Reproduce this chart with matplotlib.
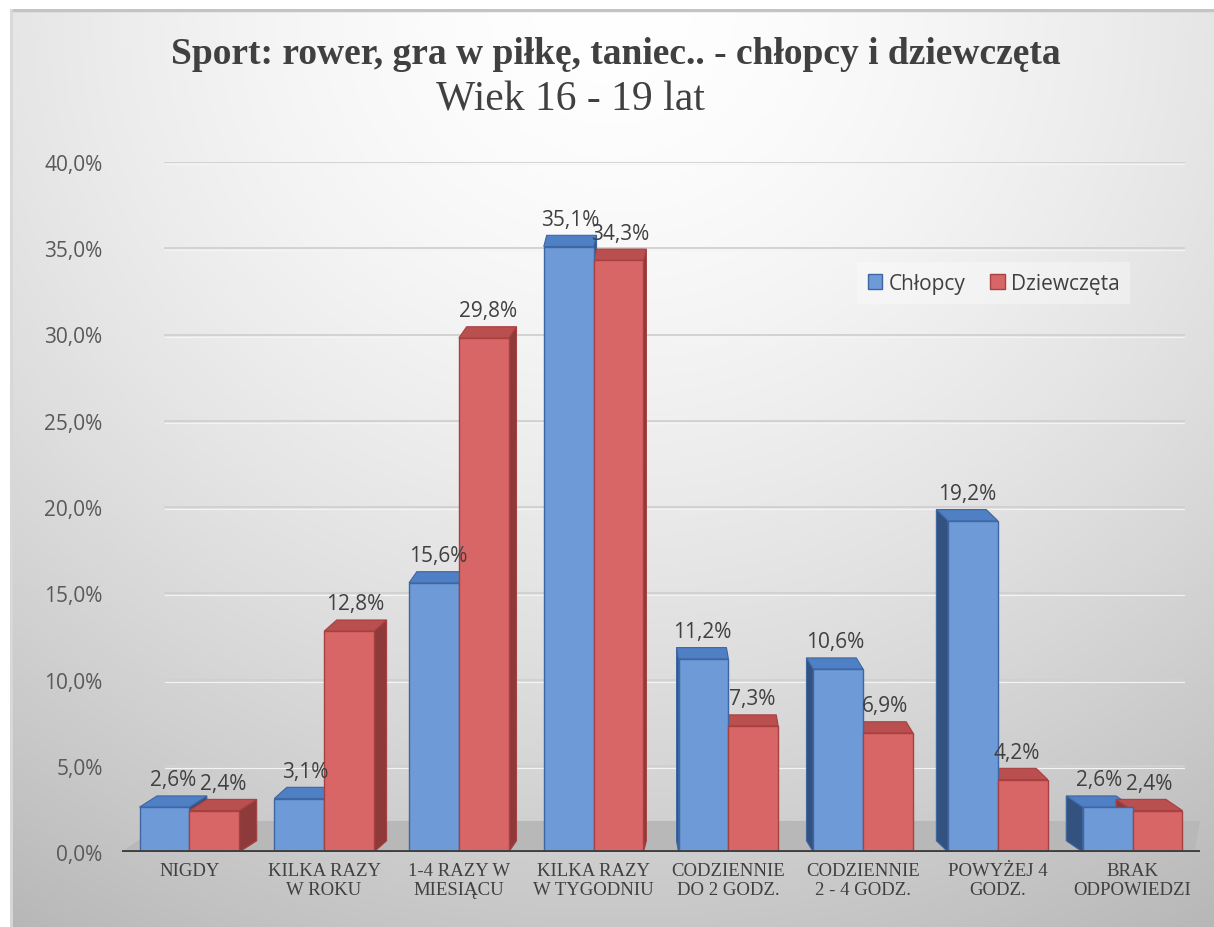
import matplotlib
matplotlib.use("Agg")
import matplotlib.pyplot as plt
import numpy as np
from matplotlib.patches import Polygon, Patch
from matplotlib.ticker import FuncFormatter

# data (percent)
categories = ["NIGDY", "KILKA RAZY\nW ROKU", "1-4 RAZY W\nMIESIĄCU", "KILKA RAZY\nW TYGODNIU",
              "CODZIENNIE\nDO 2 GODZ.", "CODZIENNIE\n2 - 4 GODZ.", "POWYŻEJ 4\nGODZ.", "BRAK\nODPOWIEDZI"]
chlopcy = [2.6, 3.1, 15.6, 35.1, 11.2, 10.6, 19.2, 2.6]
dziewczeta = [2.4, 12.8, 29.8, 34.3, 7.3, 6.9, 4.2, 2.4]
series_names = ["Chłopcy", "Dziewczęta"]

# colours: front, top, side, edge
blue = ("#6e9ad8", "#4f7fc4", "#34527f", "#3d66a3")
red = ("#d96666", "#b94f4f", "#8e3a3a", "#a84040")

W, H = 1214, 928
fig = plt.figure(figsize=(W / 100, H / 100), dpi=100)
fig.patch.set_facecolor("white")

# gradient background of the chart area
bg = fig.add_axes([10 / W, 0, 1 - 10 / W, 1 - 10 / H])
yy, xx = np.mgrid[0:1:300j, 0:1:400j]
r = np.sqrt(((xx - 0.5) * 1.1) ** 2 + ((yy - 0.0) * 0.9) ** 2)
shade = 1.0 - 0.28 * np.clip(r / 1.05, 0, 1) ** 1.6
bg.imshow(np.dstack([shade] * 3), extent=[0, 1, 0, 1], aspect="auto", origin="upper")
bg.set_xlim(0, 1)
bg.set_ylim(0, 1)
bg.axis("off")
bg.plot([0, 1], [0.999, 0.999], color="#c4c4c4", lw=2.5)
bg.plot([0.001, 0.001], [0, 1], color="#d8d8d8", lw=2)

fig.text(0.507, 1 - 55 / H, "Sport: rower, gra w piłkę, taniec.. - chłopcy i dziewczęta",
         ha="center", va="center", family="Liberation Serif", weight="bold",
         fontsize=27, color="#404040")
fig.text(0.470, 1 - 100 / H, "Wiek 16 - 19 lat", ha="center", va="center",
         family="Liberation Serif", fontsize=30, color="#404040")

ax = fig.add_axes([122 / W, 1 - 853 / H, (1200 - 122) / W, (853 - 163) / H])
ax.set_facecolor("none")
ax.set_xlim(-0.5, len(categories) - 0.5)
ax.set_ylim(0, 40)

# floor and gridlines
ax.add_patch(Polygon([(0, 0), (0.995, 0), (1.0, 0.045), (0.04, 0.045)], closed=True,
                     transform=ax.transAxes, facecolor="#b8b8b8", edgecolor="none", zorder=0))
for v in np.arange(5, 41, 5):
    ax.axhline(v, xmin=0.04, xmax=0.985, color="#d0d0d0", lw=1.3, zorder=0.5)
    ax.axhline(v - 0.12, xmin=0.04, xmax=0.985, color="#f4f4f4", lw=0.8, zorder=0.5)

x = np.arange(len(categories))
bw = 0.37
dy = 0.65
centre = 3.6
shift = 0.036


def fmt(v):
    return f"{v:.1f}%".replace(".", ",")


faces = []
fronts = []
for vals, col, off in ((chlopcy, blue, -bw / 2), (dziewczeta, red, bw / 2)):
    for i, h in enumerate(vals):
        x0 = x[i] + off - bw / 2
        x1 = x0 + bw
        dx = (centre - x[i]) * shift
        top = [(x0, h), (x1, h), (x1 + dx, h + dy), (x0 + dx, h + dy)]
        sx = x1 if dx > 0 else x0
        side = [(sx, 0), (sx, h), (sx + dx, h + dy), (sx + dx, dy)]
        faces.append(Polygon(side, closed=True, facecolor=col[2], edgecolor=col[3], lw=0.8, zorder=2))
        faces.append(Polygon(top, closed=True, facecolor=col[1], edgecolor=col[3], lw=0.8, zorder=2))
        fronts.append((x0, h, col))
        ax.annotate(fmt(h), (x0 + bw / 2 + dx / 2, h + dy), xytext=(0, 4), textcoords="offset points",
                    ha="center", va="bottom", fontsize=15, family="Open Sans", color="#404040", zorder=5)

for p in faces:
    ax.add_patch(p)
for x0, h, col in fronts:
    ax.bar(x0, h, width=bw, align="edge", color=col[0], edgecolor=col[3], lw=1.0, zorder=3)

ax.axhline(0, color="#3f3f3f", lw=3.5, zorder=4)

for s in ax.spines.values():
    s.set_visible(False)
ax.set_yticks(np.arange(0, 41, 5))
ax.yaxis.set_major_formatter(FuncFormatter(lambda v, p: fmt(v)))
ax.set_xticks(x)
ax.set_xticklabels(categories, family="Liberation Serif", fontsize=13.5, color="#404040",
                   linespacing=1.15)
ax.tick_params(axis="both", length=0)
ax.tick_params(axis="y", pad=14, labelsize=15, labelcolor="#595959")
ax.tick_params(axis="x", pad=7)
for t in ax.get_yticklabels():
    t.set_family("Open Sans")

handles = [Patch(facecolor=blue[0], edgecolor=blue[3]), Patch(facecolor=red[0], edgecolor=red[3])]
leg = ax.legend(handles, series_names, loc="upper right", bbox_to_anchor=(0.945, 0.87),
                frameon=True, fontsize=15, handlelength=0.7, handleheight=0.7,
                handletextpad=0.3, columnspacing=1.2, ncol=2, borderpad=0.5)
leg.get_frame().set_facecolor("white")
leg.get_frame().set_alpha(0.35)
leg.get_frame().set_edgecolor("none")
leg.get_frame().set_boxstyle("square", pad=0)
for t in leg.get_texts():
    t.set_family("Open Sans")
    t.set_color("#404040")

fig.savefig("out.png", dpi=100)
